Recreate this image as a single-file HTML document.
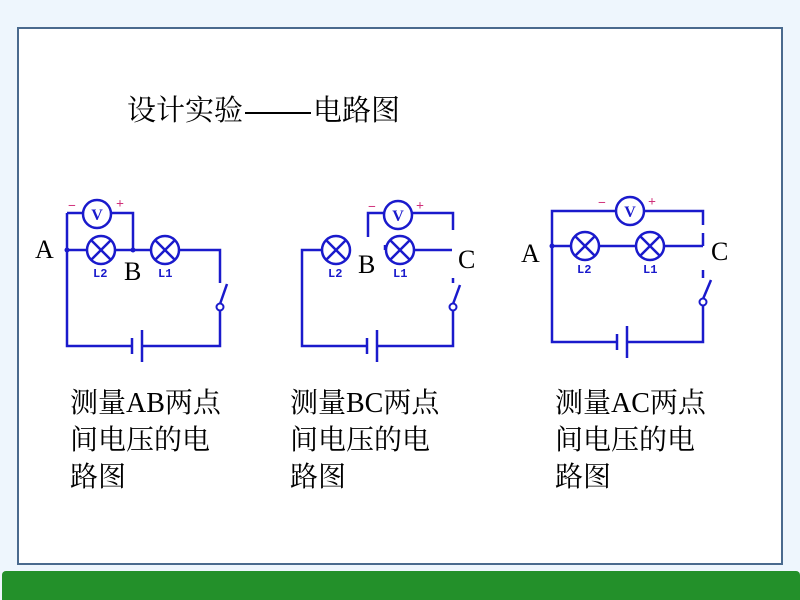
<!DOCTYPE html>
<html><head><meta charset="utf-8"><style>
body{margin:0;width:800px;height:600px;background:#eef6fd;position:relative;overflow:hidden;font-family:"Liberation Serif","Noto Serif CJK SC",serif}
.frame{position:absolute;left:17px;top:27px;width:766px;height:538px;background:#fff;border:2px solid #4a6a8e;box-sizing:border-box}
.bar{position:absolute;left:2px;top:571px;width:798px;height:29px;background:#23902a;border-radius:4px 4px 0 0}
.t{position:absolute;font-size:28px;line-height:37px;color:#000;white-space:nowrap}
</style></head><body>
<div class="frame"></div>
<div class="bar"></div>
<div class="t" style="left:127px;top:93px;font-size:29px;">设计实验<span style="display:inline-block;width:66px;border-top:2px solid #000;vertical-align:middle;margin:0 2px"></span>电路图</div>
<div class="t" style="left:70px;top:385px;">测量AB两点<br>间电压的电<br>路图</div>
<div class="t" style="left:290px;top:385px;">测量BC两点<br>间电压的电<br>路图</div>
<div class="t" style="left:555px;top:385px;">测量AC两点<br>间电压的电<br>路图</div>
<svg width="800" height="600" style="position:absolute;left:0;top:0" font-family="Liberation Serif">
<defs>
<g id="lamp"><circle r="14" fill="#fff" stroke="#1a1acc" stroke-width="2.5"/><path d="M-10,-10L10,10M10,-10L-10,10" stroke="#1a1acc" stroke-width="2.5"/></g>
<g id="vm"><circle r="14" fill="#fff" stroke="#1a1acc" stroke-width="2.5"/><text y="6" text-anchor="middle" font-size="16" font-weight="bold" fill="#1a1acc">V</text></g>
</defs>
<g stroke="#1a1acc" stroke-width="2.5" fill="none">
<path d="M67,213V346H132M142,346H220V310M220,304L227,284M220,283V250H67M67,213H133V250"/>
<path d="M132,338V354M142,330V362"/>
<path d="M322,250H302V346H367M377,346H453V310M453,304L460,285M453,278V283M368,237V213H453V230M414,250H452M385,250V245"/>
<path d="M367,338V354M377,330V362"/>
<path d="M552,246V342H617M627,342H703V305M703,299L711,280M703,270V278M552,246H703M552,246V211H703V225M703,233V246"/>
<path d="M617,334V350M627,326V358"/>
</g>
<circle cx="220" cy="307" r="3.5" fill="#fff" stroke="#1a1acc" stroke-width="2"/>
<circle cx="453" cy="307" r="3.5" fill="#fff" stroke="#1a1acc" stroke-width="2"/>
<circle cx="703" cy="302" r="3.5" fill="#fff" stroke="#1a1acc" stroke-width="2"/>
<circle cx="67" cy="250" r="2.5" fill="#1a1acc"/><circle cx="133" cy="250" r="2.5" fill="#1a1acc"/>
<circle cx="552" cy="246" r="2.5" fill="#1a1acc"/>
<use href="#lamp" x="101" y="250"/><use href="#lamp" x="165" y="250"/><use href="#vm" x="97" y="214"/>
<use href="#lamp" x="336" y="250"/><use href="#lamp" x="400" y="250"/><use href="#vm" x="398" y="215"/>
<use href="#lamp" x="585" y="246"/><use href="#lamp" x="650" y="246"/><use href="#vm" x="630" y="211"/>
<g fill="#1a1acc" font-size="12" font-weight="bold" font-family="Liberation Mono">
<text x="93" y="277">L2</text><text x="158" y="277">L1</text>
<text x="328" y="277">L2</text><text x="393" y="277">L1</text>
<text x="577" y="273">L2</text><text x="643" y="273">L1</text>
</g>
<g fill="#d0307a" font-size="14" font-weight="bold">
<text x="68" y="210">−</text><text x="116" y="208">+</text>
<text x="368" y="211">−</text><text x="416" y="210">+</text>
<text x="598" y="207">−</text><text x="648" y="206">+</text>
</g>
<g fill="#000" font-size="26">
<text x="35" y="258">A</text><text x="124" y="280">B</text>
<text x="358" y="273">B</text><text x="458" y="268">C</text>
<text x="521" y="262">A</text><text x="711" y="260">C</text>
</g>
</svg>
</body></html>
